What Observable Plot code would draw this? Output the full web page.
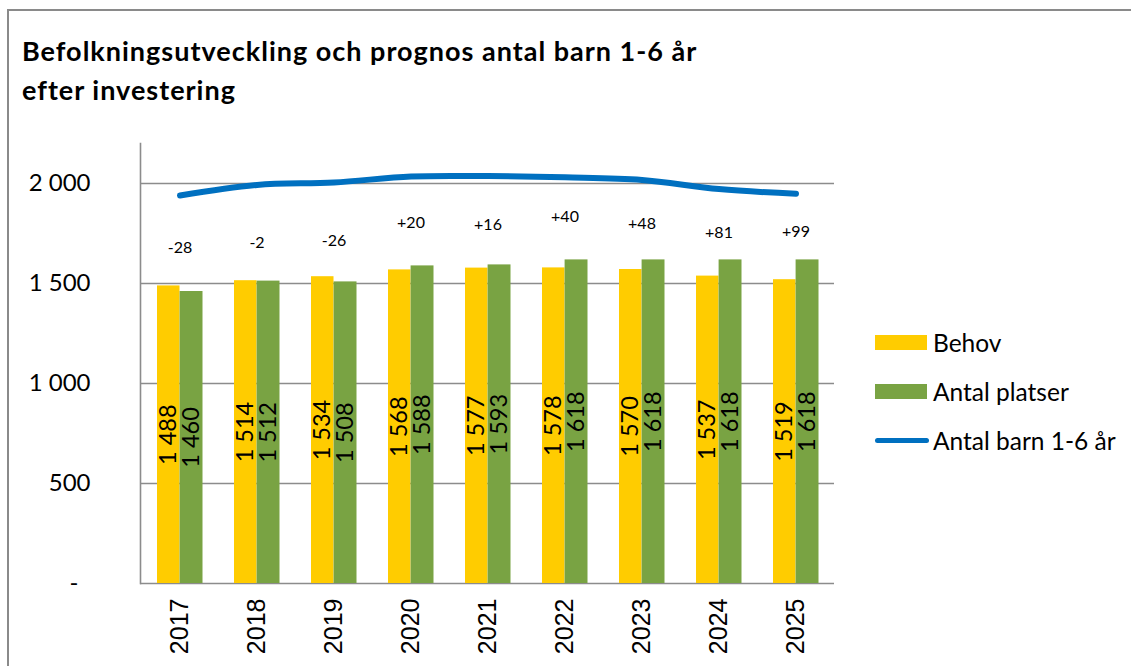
<!DOCTYPE html>
<html>
<head>
<meta charset="utf-8">
<script src="https://cdn.jsdelivr.net/npm/d3@7"></script>
<script src="https://cdn.jsdelivr.net/npm/@observablehq/plot@0.6"></script>
<style>
  html, body { margin: 0; padding: 0; background: #fff; }
  #wrap { position: relative; width: 1131px; height: 666px; overflow: hidden; background: #fff; font-family: Lato, "Open Sans", sans-serif; }
  #frame { position: absolute; left: 7px; top: 9px; width: 1300px; height: 900px; border: 2px solid #8a8a8a; box-sizing: border-box; }
  #title { position: absolute; left: 22px; top: 31px; font-weight: 700; font-size: 27px; letter-spacing: 1px; line-height: 39px; color: #000; white-space: nowrap; }
  #chart { position: absolute; left: 0; top: 0; }
  #legend { position: absolute; left: 875px; top: 318px; font-size: 24.5px; color: #000; }
  .row { position: relative; height: 49px; display: flex; align-items: center; }
  .sw { width: 52px; height: 15px; margin-right: 6px; }
  .ln { width: 54px; height: 5px; border-radius: 3px; margin-right: 4px; }
</style>
</head>
<body>
<div id="wrap">
  <div id="frame"></div>
  <div id="chart"></div>
  <div id="title">Befolkningsutveckling och prognos antal barn 1-6 år<br>efter investering</div>
  <div id="legend"></div>
</div>
<script>
const years = ["2017", "2018", "2019", "2020", "2021", "2022", "2023", "2024", "2025"];
const behov = [1488, 1514, 1534, 1568, 1577, 1578, 1570, 1537, 1519];
const platser = [1460, 1512, 1508, 1588, 1593, 1618, 1618, 1618, 1618];
const antalBarn = [1940, 1993, 2005, 2035, 2037, 2031, 2018, 1972, 1949];
const diffLabelLevel = [1680, 1705, 1715, 1805, 1795, 1835, 1800, 1755, 1760];
const yTicks = [0, 500, 1000, 1500, 2000];
const seriesNames = ["Behov", "Antal platser", "Antal barn 1-6 år"];
const colors = ["#FFCC00", "#79A343", "#0070C0"];

const rows = years.map((y, i) => ({
  year: y,
  behov: behov[i],
  platser: platser[i],
  barn: antalBarn[i],
  diff: platser[i] - behov[i],
  diffY: diffLabelLevel[i]
}));

const locale = d3.formatLocale({ thousands: "\u00a0", grouping: [3], decimal: ",", currency: ["", ""] });
const fmt = locale.format(",d");
const tickFmt = d => d === 0 ? "-\u2002" : fmt(d);
const signFmt = d => d > 0 ? "+" + d : String(d);

const chart = Plot.plot({
  width: 1131,
  height: 666,
  marginLeft: 140,
  marginRight: 297,
  marginTop: 143,
  marginBottom: 83,
  style: { fontFamily: "Lato, sans-serif", background: "transparent", color: "#000", overflow: "visible" },
  x: { type: "band", domain: years, padding: 0, label: null },
  y: { domain: [0, 2200], label: null },
  marks: [
    Plot.ruleY(yTicks, { stroke: "#8c8c8c", strokeWidth: 1.6, strokeOpacity: 1 }),
    Plot.frame({ anchor: "left", stroke: "#8c8c8c", strokeWidth: 1.6, strokeOpacity: 1 }),
    Plot.barY(rows, { x: "year", y: "behov", fill: colors[0], insetLeft: 16, insetRight: 38.5 }),
    Plot.barY(rows, { x: "year", y: "platser", fill: colors[1], insetLeft: 38.6, insetRight: 15.5 }),
    Plot.line(rows, { x: "year", y: "barn", stroke: colors[2], strokeWidth: 6, curve: "catmull-rom", strokeLinecap: "round" }),
    Plot.text(rows, { x: "year", y: d => d.behov / 2, text: d => fmt(d.behov), rotate: -90, dx: -11.5, fontSize: 23.5, fill: "#000" }),
    Plot.text(rows, { x: "year", y: d => d.platser / 2, text: d => fmt(d.platser), rotate: -90, dx: 11.5, fontSize: 23.5, fill: "#000" }),
    Plot.text(rows, { x: "year", y: "diffY", text: d => signFmt(d.diff), fontSize: 16, fill: "#000" }),
    Plot.axisY(yTicks, { tickSize: 0, tickPadding: 50, tickFormat: tickFmt, fontSize: 24, label: null }),
    Plot.axisX({ tickSize: 0, tickRotate: -90, tickPadding: 15, fontSize: 25, fontFamily: "Liberation Sans, Arial, sans-serif", label: null })
  ]
});
document.getElementById("chart").appendChild(chart);

const legend = document.getElementById("legend");
seriesNames.forEach((name, i) => {
  const row = document.createElement("div");
  row.className = "row";
  const sw = document.createElement("div");
  sw.className = i === 2 ? "ln" : "sw";
  sw.style.background = colors[i];
  const label = document.createElement("span");
  label.textContent = name;
  row.appendChild(sw);
  row.appendChild(label);
  legend.appendChild(row);
});
</script>
</body>
</html>
